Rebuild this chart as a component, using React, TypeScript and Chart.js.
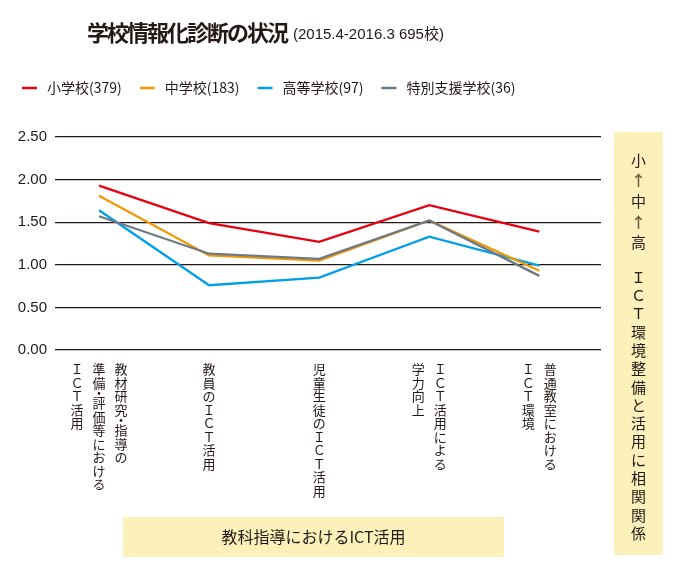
import React, { useEffect, useRef } from "react";
import { Chart, registerables } from "chart.js";

Chart.register(...registerables);

// ---------- data ----------
const categoryLabels: string[][] = [
  ["教材研究・指導の", "準備・評価等における", "ＩＣＴ活用"],
  ["教員のＩＣＴ活用"],
  ["児童生徒のＩＣＴ活用"],
  ["ＩＣＴ活用による", "学力向上"],
  ["普通教室における", "ＩＣＴ環境"],
];

const seriesNames = ["小学校(379)", "中学校(183)", "高等学校(97)", "特別支援学校(36)"];
const elementary = [1.93, 1.49, 1.27, 1.7, 1.39];
const juniorHigh = [1.81, 1.11, 1.05, 1.52, 0.93];
const highSchool = [1.64, 0.76, 0.85, 1.33, 0.99];
const special = [1.57, 1.13, 1.07, 1.52, 0.87];
const seriesColors = ["#e60012", "#f39800", "#00a0e9", "#6b7a86"];

const yTickValues = [0, 0.5, 1, 1.5, 2, 2.5];

const titleMain = "学校情報化診断の状況";
const titleSub = "(2015.4-2016.3 695校)";
const bottomNote = "教科指導におけるICT活用";
const sideTop = ["小", "↑", "中", "↑", "高"];
const sideBottom = "ＩＣＴ環境整備と活用に相関関係";

const JP = '"Noto Sans CJK JP", "Noto Sans", sans-serif';
const NUM = '"Liberation Sans", "Noto Sans CJK JP", sans-serif';
const INK = "#231815";
const YELLOW = "#fdf1bb";

const decorPlugin = {
  id: "decor",
  afterDraw(chart: any) {
    const ctx: CanvasRenderingContext2D = chart.ctx;
    const xScale = chart.scales.x;
    ctx.save();

    // Title
    ctx.fillStyle = INK;
    ctx.textBaseline = "middle";
    ctx.textAlign = "left";
    ctx.font = `bold 22px ${JP}`;
    (ctx as any).letterSpacing = "-2px";
    ctx.fillText(titleMain, 87, 33);
    const tw = ctx.measureText(titleMain).width;
    (ctx as any).letterSpacing = "0px";
    ctx.font = `15px ${NUM}`;
    ctx.fillText(titleSub, 87 + tw + 6, 35);

    // Legend
    let lx = 22;
    const ly = 88;
    ctx.font = `14px ${JP}`;
    chart.data.datasets.forEach((ds: any) => {
      ctx.strokeStyle = ds.borderColor;
      ctx.lineWidth = 2.5;
      ctx.beginPath();
      ctx.moveTo(lx, ly);
      ctx.lineTo(lx + 15, ly);
      ctx.stroke();
      lx += 15 + 10;
      ctx.fillStyle = INK;
      ctx.fillText(ds.label, lx, ly);
      lx += ctx.measureText(ds.label).width + 18;
    });

    // Vertical category labels
    ctx.font = `13px ${JP}`;
    ctx.textAlign = "center";
    ctx.textBaseline = "top";
    ctx.fillStyle = INK;
    const colGap = 22;
    const step = 13.5;
    categoryLabels.forEach((cols, i) => {
      const cx = xScale.getPixelForValue(i);
      const n = cols.length;
      cols.forEach((col, j) => {
        const x = cx + ((n - 1) / 2) * colGap - j * colGap;
        let y = 363;
        for (const ch of Array.from(col)) {
          if (ch === "・") {
            ctx.fillText(ch, x, y - step / 4);
            y += step / 2;
          } else {
            ctx.fillText(ch, x, y);
            y += step;
          }
        }
      });
    });

    // Bottom note box
    ctx.fillStyle = YELLOW;
    ctx.fillRect(123, 517, 381, 40);
    ctx.fillStyle = INK;
    ctx.font = `16px ${JP}`;
    ctx.textBaseline = "middle";
    ctx.fillText(bottomNote, 313.5, 537);

    // Side box
    ctx.fillStyle = YELLOW;
    ctx.fillRect(614, 132, 49, 423);
    sideTop.forEach((ch, k) => {
      if (ch === "↑") {
        ctx.font = `bold 15px ${JP}`;
        ctx.fillStyle = "#6f5f45";
      } else {
        ctx.font = `15px ${JP}`;
        ctx.fillStyle = INK;
      }
      ctx.fillText(ch, 638.5, 160 + k * 20.6);
    });
    ctx.font = `15px ${JP}`;
    ctx.fillStyle = INK;
    Array.from(sideBottom).forEach((ch, k) => {
      ctx.fillText(ch, 638.5, 277 + k * 18.3);
    });

    ctx.restore();
  },
};

export default function App() {
  const canvasRef = useRef<HTMLCanvasElement | null>(null);

  useEffect(() => {
    if (!canvasRef.current) return;
    const series = [elementary, juniorHigh, highSchool, special];
    const orders = [0, 2, 3, 1];
    const chart = new Chart(canvasRef.current, {
      type: "line",
      data: {
        datasets: series.map((vals, s) => ({
          label: seriesNames[s],
          data: vals.map((y, i) => ({ x: i, y })),
          borderColor: seriesColors[s],
          backgroundColor: seriesColors[s],
          borderWidth: 2.3,
          pointRadius: 0,
          tension: 0,
          fill: false,
          order: orders[s],
        })),
      },
      options: {
        responsive: false,
        maintainAspectRatio: false,
        animation: false,
        layout: { padding: { top: 137, bottom: 220, left: 0, right: 77 } },
        plugins: {
          legend: { display: false },
          title: { display: false },
          tooltip: { enabled: false },
        },
        scales: {
          x: {
            type: "linear",
            display: false,
            min: -0.4,
            max: 4.56,
          },
          y: {
            min: 0,
            max: 2.5,
            afterBuildTicks: (scale: any) => {
              scale.ticks = yTickValues.map((v) => ({ value: v }));
            },
            afterFit: (scale: any) => {
              scale.width = 55;
            },
            border: { display: false },
            grid: { color: INK, lineWidth: 1.2, drawTicks: false },
            ticks: {
              padding: 8,
              color: INK,
              font: { family: NUM, size: 15 },
              callback: (v: any) => Number(v).toFixed(2),
            },
          },
        },
      },
      plugins: [decorPlugin],
    });
    return () => chart.destroy();
  }, []);

  return (
    <div style={{ position: "absolute", left: 0, top: 0, width: 678, height: 570, background: "#fff" }}>
      <canvas ref={canvasRef} width={678} height={570} />
    </div>
  );
}
